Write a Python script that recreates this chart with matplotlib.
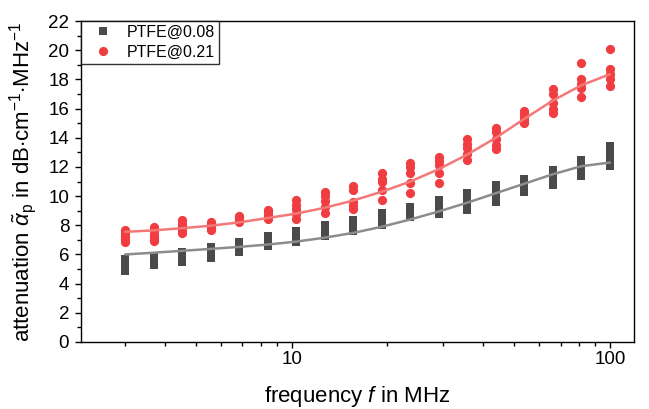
import numpy as np
import matplotlib
matplotlib.use("Agg")
import matplotlib.pyplot as plt
from matplotlib.lines import Line2D
from matplotlib.ticker import LogLocator, FixedLocator, NullFormatter, MultipleLocator

plt.rcParams['font.family'] = ['Liberation Sans', 'DejaVu Sans']
plt.rcParams['mathtext.fontset'] = 'custom'
plt.rcParams['mathtext.rm'] = 'Liberation Sans'
plt.rcParams['mathtext.it'] = 'Liberation Sans:italic'
plt.rcParams['mathtext.bf'] = 'Liberation Sans:bold'

freq = [3.0, 3.69, 4.53, 5.57, 6.85, 8.42, 10.34, 12.71, 15.63, 19.21,
        23.61, 29.02, 35.66, 43.84, 53.88, 66.22, 81.39, 100.0]

ptfe008 = [
    [5.7, 5.5, 5.3, 5.1, 4.9],
    [5.8, 5.65, 5.5, 5.35, 5.25],
    [6.2, 6.0, 5.8, 5.6, 5.5],
    [6.5, 6.3, 6.1, 5.9, 5.75],
    [6.85, 6.65, 6.5, 6.3, 6.15],
    [7.25, 7.05, 6.9, 6.7, 6.55],
    [7.6, 7.4, 7.2, 7.0, 6.85],
    [8.0, 7.8, 7.6, 7.4, 7.25],
    [8.35, 8.15, 7.95, 7.75, 7.6],
    [8.85, 8.6, 8.4, 8.2, 8.0],
    [9.25, 9.05, 8.9, 8.7, 8.55],
    [9.7, 9.45, 9.2, 9.0, 8.75],
    [10.2, 9.9, 9.6, 9.3, 9.05],
    [10.75, 10.45, 10.15, 9.85, 9.6],
    [11.15, 10.95, 10.7, 10.5, 10.3],
    [11.8, 11.5, 11.25, 11.0, 10.75],
    [12.5, 12.2, 11.95, 11.65, 11.4],
    [13.4, 13.05, 12.7, 12.35, 12.05],
]

ptfe021 = [
    [7.65, 7.45, 7.25, 7.05, 6.85],
    [7.85, 7.6, 7.35, 7.1, 6.9],
    [8.35, 8.1, 7.9, 7.65, 7.45],
    [8.2, 8.05, 7.95, 7.8, 7.7],
    [8.65, 8.55, 8.45, 8.35, 8.25],
    [9.05, 8.9, 8.7, 8.55, 8.4],
    [9.75, 9.4, 9.1, 8.8, 8.45],
    [10.3, 10.0, 9.65, 9.25, 8.85],
    [10.7, 10.4, 9.6, 9.3, 9.1],
    [11.55, 11.2, 10.95, 10.4, 9.7],
    [12.3, 12.0, 11.6, 10.9, 10.2],
    [12.7, 12.4, 12.1, 11.6, 10.9],
    [13.9, 13.6, 13.3, 12.9, 12.5],
    [14.7, 14.4, 13.9, 13.5, 13.2],
    [15.85, 15.6, 15.4, 15.2, 15.0],
    [17.35, 17.0, 16.4, 16.0, 15.7],
    [19.1, 18.0, 17.7, 17.4, 16.8],
    [20.05, 18.7, 18.4, 18.05, 17.55],
]

fit008 = [6.0, 6.12, 6.25, 6.38, 6.52, 6.68, 6.88, 7.15, 7.48, 7.9,
          8.4, 8.95, 9.55, 10.2, 10.85, 11.5, 12.05, 12.3]
fit021 = [7.55, 7.65, 7.8, 7.97, 8.2, 8.5, 8.8, 9.2, 9.7, 10.3,
          11.0, 11.85, 12.85, 14.0, 15.3, 16.55, 17.6, 18.35]

labels = ['PTFE@0.08', 'PTFE@0.21']
gray_c = '#4a4a4a'
red_c = '#ef3d42'

fig = plt.figure(figsize=(6.49, 4.09), dpi=100)
ax = fig.add_axes([81/649, 1-342/409, (634-81)/649, (342-21)/409])

f = np.array(freq)
g = np.array(ptfe008)
r = np.array(ptfe021)
fx = np.repeat(f, g.shape[1])

ax.scatter(fx, g.ravel(), marker='s', s=36, color=gray_c, linewidths=0, zorder=2)
ax.scatter(fx, r.ravel(), marker='o', s=44, color=red_c, linewidths=0, zorder=2)
ax.plot(f, fit008, color='#8c8c8c', lw=1.8, zorder=3, solid_capstyle='round')
ax.plot(f, fit021, color='#f47878', lw=1.8, zorder=3, solid_capstyle='round')

ax.set_xscale('log')
ax.set_xlim(2.18, 119)
ax.set_ylim(0, 22)
ax.xaxis.set_major_locator(FixedLocator([10, 100]))
ax.set_xticklabels(['10', '100'])
ax.xaxis.set_minor_locator(LogLocator(base=10, subs=np.arange(2, 10)))
ax.xaxis.set_minor_formatter(NullFormatter())
ax.yaxis.set_major_locator(MultipleLocator(2))
ax.yaxis.set_minor_locator(MultipleLocator(1))

ax.tick_params(which='major', direction='out', length=4.5, width=1, labelsize=13.5)
ax.tick_params(axis='y', which='major', pad=4)
ax.tick_params(axis='x', which='major', pad=2)
ax.tick_params(which='minor', direction='out', length=2.8, width=1)
for s in ax.spines.values():
    s.set_linewidth(1.0)

ax.set_xlabel('frequency $\\mathit{f}$ in MHz', fontsize=16)
ax.xaxis.set_label_coords(0.5, (342 - 384) / 321)
ax.set_ylabel('attenuation $\\tilde{\\alpha}_{\\mathrm{p}}$ in dB$\\cdot$cm$^{-1}$$\\cdot$MHz$^{-1}$',
              fontsize=16)
ax.yaxis.set_label_coords((39 - 81) / 553, 0.5)

handles = [
    Line2D([], [], linestyle='none', marker='s', markersize=6, color=gray_c, markeredgewidth=0),
    Line2D([], [], linestyle='none', marker='o', markersize=6.6, color=red_c, markeredgewidth=0),
]
leg = ax.legend(handles, labels, loc='upper left', bbox_to_anchor=(0, 1), borderaxespad=0,
                fontsize=11.5, frameon=True, fancybox=False, handletextpad=0.38,
                borderpad=0.25, labelspacing=0.3, handlelength=2.25, numpoints=1)
leg.get_frame().set_edgecolor('black')
leg.get_frame().set_linewidth(1.0)

fig.savefig('out.png', dpi=100)
